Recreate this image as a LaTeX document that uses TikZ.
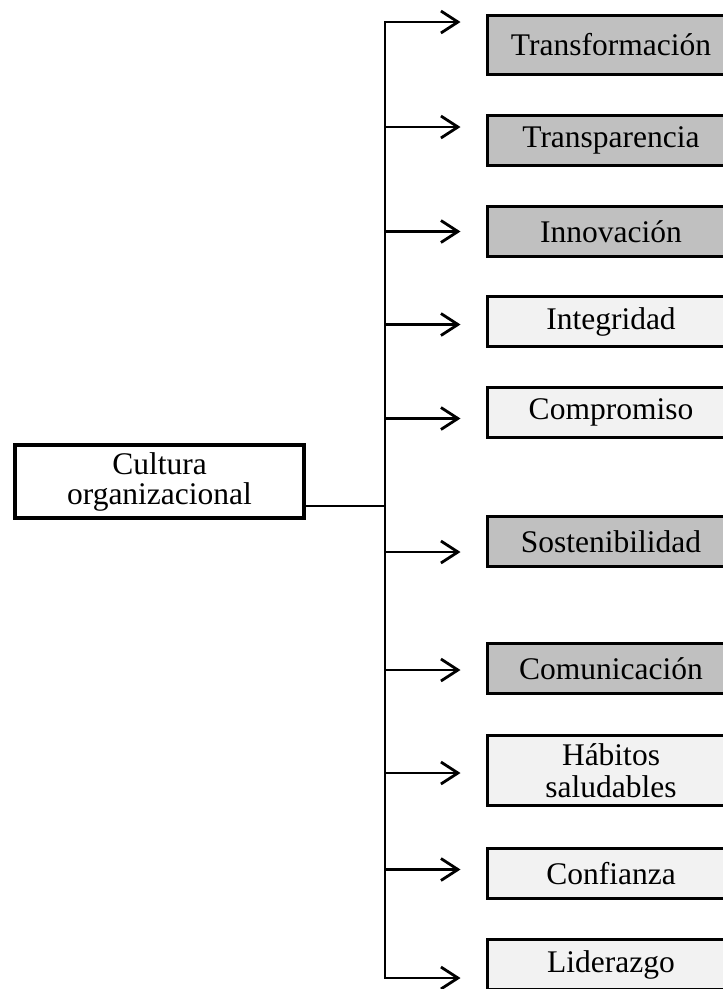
\documentclass[tikz,border=0pt]{standalone}
\usepackage{fontspec}
\setmainfont{Liberation Serif}
\usetikzlibrary{positioning, arrows.meta}

\definecolor{valdark}{HTML}{C0C0C0}
\definecolor{vallight}{HTML}{F2F2F2}

\begin{document}
\begin{tikzpicture}[
  x=1pt, y=-1pt,
  font=\fontsize{31.5}{32}\selectfont,
  box/.style={draw, line width=3pt, minimum width=248pt,
    minimum height=50pt, align=center, inner sep=2pt},
  dark/.style={box, fill=valdark},
  light/.style={box, fill=vallight},
  arrow/.style={-{Straight Barb[length=17pt, width=22pt]}, line width=2.8pt},
]
  \useasboundingbox (0,0) rectangle (723,989);

  \node[draw, line width=3.8pt, minimum width=289pt, minimum height=73pt,
    align=center, font=\fontsize{31.5}{30}\selectfont] (cultura) at (159.5,481.5) {Cultura\\organizacional};

  \node[dark, minimum height=59pt] (transf) at (611,45) {Transformación};
  \node[dark, below=38pt of transf] (transp) {Transparencia};
  \node[dark, below=38pt of transp] (innov) {Innovación};
  \node[light, below=37pt of innov] (integ) {Integridad};
  \node[light, below=38pt of integ] (compr) {Compromiso};
  \node[dark, below=76pt of compr] (sosten) {Sostenibilidad};
  \node[dark, below=74pt of sosten] (comun) {Comunicación};
  \node[light, minimum height=70pt, below=39pt of comun] (habit) {Hábitos\\saludables};
  \node[light, below=40pt of habit] (confi) {Confianza};
  \node[light, below=38pt of confi] (lider) {Liderazgo};

  \coordinate (top) at (385,22);
  \coordinate (bot) at (385,978);

  \draw[line width=2.8pt] ([yshift=-24.5pt]cultura.east) -- ([yshift=-24.5pt]cultura.east -| top);
  \draw[arrow] (bot) -- (top) -- ([xshift=-25pt]transf.west |- top);
  \draw[arrow] (top) -- (bot) -- ([xshift=-25pt]lider.west |- bot);
  \draw[arrow] ([yshift=13.5pt]transp.west -| top) -- ([xshift=-25pt, yshift=13.5pt]transp.west);
  \draw[arrow] (innov.west -| top) -- ([xshift=-25pt]innov.west);
  \draw[arrow] ([yshift=-3pt]integ.west -| top) -- ([xshift=-25pt, yshift=-3pt]integ.west);
  \draw[arrow] ([yshift=-6pt]compr.west -| top) -- ([xshift=-25pt, yshift=-6pt]compr.west);
  \draw[arrow] ([yshift=-10.5pt]sosten.west -| top) -- ([xshift=-25pt, yshift=-10.5pt]sosten.west);
  \draw[arrow] ([yshift=-1.5pt]comun.west -| top) -- ([xshift=-25pt, yshift=-1.5pt]comun.west);
  \draw[arrow] ([yshift=-2.5pt]habit.west -| top) -- ([xshift=-25pt, yshift=-2.5pt]habit.west);
  \draw[arrow] ([yshift=4pt]confi.west -| top) -- ([xshift=-25pt, yshift=4pt]confi.west);
\end{tikzpicture}
\end{document}
